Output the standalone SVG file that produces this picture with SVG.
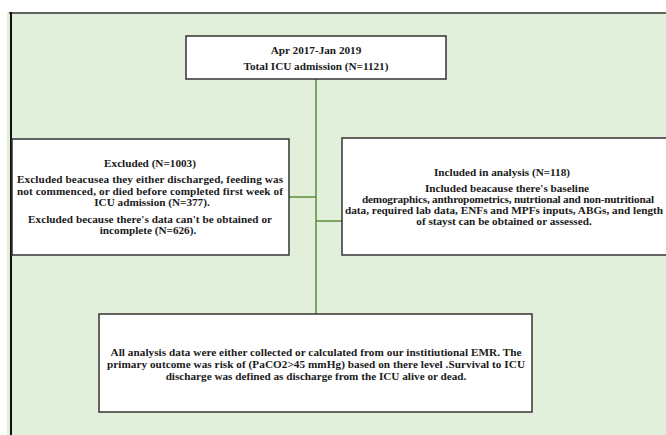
<svg xmlns="http://www.w3.org/2000/svg" width="666" height="435" viewBox="0 0 666 435">
<style>
.box{fill:#fff;stroke:#333;stroke-width:1.5}
.t{font-family:"Liberation Serif","Times New Roman",serif;font-weight:bold;font-size:11.2px;fill:#1a1a1a;text-anchor:middle}
.c{stroke:#5E8C3A;stroke-width:1.5;fill:none}
</style>
<rect x="7" y="12" width="670" height="430" fill="#E2EFDA"/>
<line x1="9" y1="13" x2="666" y2="13" stroke="#333" stroke-width="1.5"/>
<line x1="11" y1="12" x2="11" y2="435" stroke="#111" stroke-width="2"/>
<g id="connectors">
<line class="c" x1="316" y1="79" x2="316" y2="314"/>
<line class="c" x1="289" y1="197" x2="316" y2="197"/>
<line class="c" x1="316" y1="221" x2="342" y2="221"/>
</g>
<g id="top">
<rect class="box" x="186" y="36" width="260" height="43"/>
<text class="t" x="316" y="54">Apr 2017-Jan 2019</text>
<text class="t" x="316" y="70">Total ICU admission (N=1121)</text>
</g>
<g id="excluded">
<rect class="box" x="12" y="139" width="277" height="116"/>
<text class="t" x="150" y="167">Excluded (N=1003)</text>
<text class="t" x="150" y="183" textLength="266">Excluded beacusea they  either discharged, feeding was</text>
<text class="t" x="150" y="195" textLength="266">not commenced, or died before completed first week of</text>
<text class="t" x="152" y="206">ICU admission (N=377).</text>
<text class="t" x="150" y="223" textLength="244">Excluded because there's data can't be obtained or</text>
<text class="t" x="148" y="234">incomplete (N=626).</text>
</g>
<g id="included">
<rect class="box" x="342" y="138" width="330" height="117"/>
<text class="t" x="502" y="175.5">Included in analysis (N=118)</text>
<text class="t" x="507" y="191.5">Included beacause there's baseline</text>
<text class="t" x="508" y="202.5" textLength="292">demographics, anthropometrics, nutrtional and non-nutritional</text>
<text class="t" x="504" y="214" textLength="318">data, required lab data, ENFs and MPFs inputs, ABGs, and length</text>
<text class="t" x="504" y="225">of stayst can be obtained or assessed.</text>
</g>
<g id="analysis">
<rect class="box" x="99" y="314" width="433" height="98"/>
<text class="t" x="316" y="355.5" textLength="411">All analysis data were either collected or calculated from our institiutional  EMR. The</text>
<text class="t" x="316" y="367.5" textLength="418">primary outcome was risk of (PaCO2&gt;45 mmHg) based on there level .Survival to ICU</text>
<text class="t" x="316" y="379.5">discharge was defined as discharge from the ICU alive or dead.</text>
</g>
</svg>
